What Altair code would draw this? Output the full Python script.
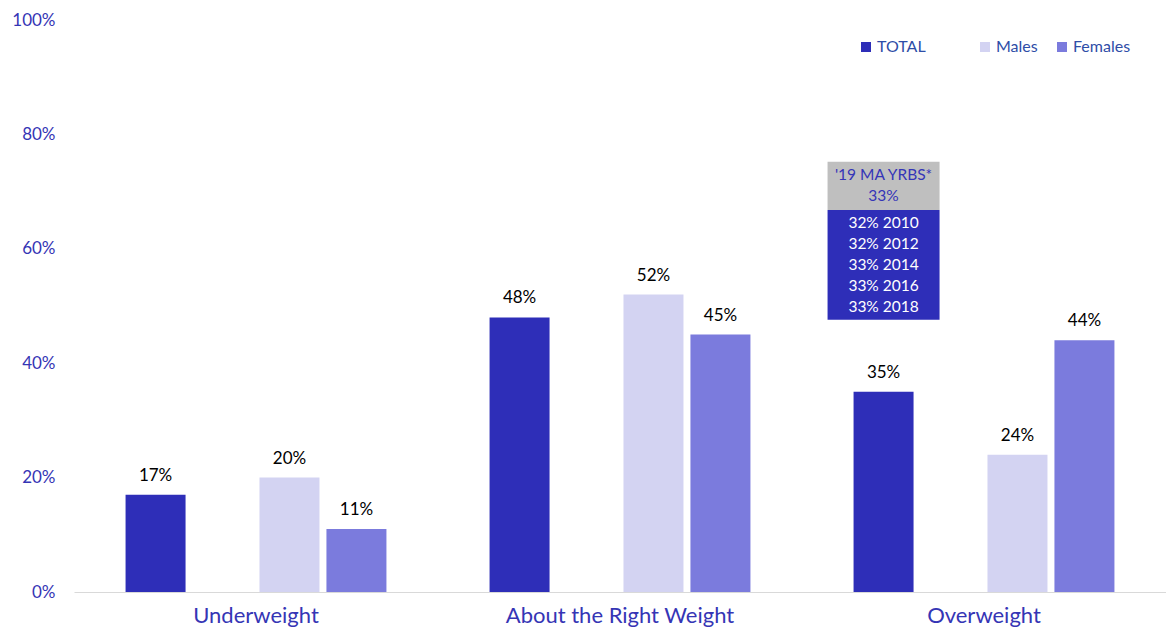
import altair as alt
import pandas as pd

groups = ["Underweight", "About the Right Weight", "Overweight"]
series = ["TOTAL", " ", "Males", "Females"]
colors = ["#2E2EB8", "#FFFFFF", "#D3D3F2", "#7B7BDD"]
total = [17, 48, 35]
males = [20, 52, 24]
females = [11, 45, 44]

# annotation box (state comparison) placed above Overweight / TOTAL
box_group = "Overweight"
box_series = "TOTAL"
box_bottoms = [66.8, 47.6]
box_tops = [75.2, 66.8]
box_fills = ["#BFBFBF", "#2E2EB8"]
box_text_colors = ["#3535B8", "#FFFFFF"]
box_texts = ["'19 MA YRBS*\n33%", "32% 2010\n32% 2012\n33% 2014\n33% 2016\n33% 2018"]

rows = []
for i, g in enumerate(groups):
    for s, vals in [("TOTAL", total), ("Males", males), ("Females", females)]:
        rows.append({"group": g, "series": s, "value": vals[i], "label": f"{vals[i]}%"})
df = pd.DataFrame(rows)

box_df = pd.DataFrame({
    "group": [box_group] * 2,
    "series": [box_series] * 2,
    "y": box_bottoms,
    "y2": box_tops,
    "fill": box_fills,
    "tcol": box_text_colors,
    "text": box_texts,
})

FONT = "Lato"
AXIS_BLUE = "#3535B5"

x_enc = alt.X("group:N", sort=groups,
              scale=alt.Scale(paddingInner=0, paddingOuter=0),
              axis=alt.Axis(title=None, labelAngle=0, labelFontSize=22, labelColor=AXIS_BLUE,
                            labelFont=FONT, ticks=False, domainColor="#D9D9D9",
                            labelPadding=13, labelLimit=0))
xo_enc = alt.XOffset("series:N",
                     scale=alt.Scale(domain=series, paddingInner=0.104, paddingOuter=0.77))
y_scale = alt.Scale(domain=[0, 100], nice=False)

bars = alt.Chart(df).mark_bar().encode(
    x=x_enc,
    xOffset=xo_enc,
    y=alt.Y("value:Q", scale=y_scale,
            axis=alt.Axis(title=None, values=[0, 20, 40, 60, 80, 100],
                          labelExpr="datum.value + '%'", grid=False, domain=False,
                          ticks=False, labelFontSize=17, labelColor=AXIS_BLUE,
                          labelFont=FONT, labelPadding=19)),
    color=alt.Color("series:N",
                    scale=alt.Scale(domain=series, range=colors),
                    legend=alt.Legend(title=None, orient="none", direction="horizontal",
                                      legendX=784, legendY=19, symbolType="square",
                                      symbolSize=100, symbolStrokeWidth=0,
                                      labelFontSize=16, labelFont=FONT,
                                      labelColor="#2E4DA7", columnPadding=16,
                                      labelOffset=3, padding=0)),
)

labels = alt.Chart(df).mark_text(baseline="bottom", dy=-10, fontSize=17,
                                 font=FONT, color="#000000").encode(
    x=alt.X("group:N", sort=groups),
    xOffset=alt.XOffset("series:N"),
    y=alt.Y("value:Q"),
    text="label:N",
)

boxes = alt.Chart(box_df).mark_bar(size=112).encode(
    x=alt.X("group:N", sort=groups),
    xOffset=alt.XOffset("series:N"),
    y=alt.Y("y:Q"),
    y2="y2:Q",
    color=alt.Color("fill:N", scale=None),
)

box_text = alt.Chart(box_df).mark_text(lineBreak="\n", lineHeight=21, fontSize=15.5,
                                       font=FONT, baseline="top", dy=6).encode(
    x=alt.X("group:N", sort=groups),
    xOffset=alt.XOffset("series:N"),
    y=alt.Y("y2:Q"),
    text="text:N",
    color=alt.Color("tcol:N", scale=None),
)

chart = alt.layer(bars, labels, boxes, box_text).properties(
    width=1092, height=572,
    background="#FFFFFF",
    autosize=alt.AutoSizeParams(type="none"),
    padding={"left": 66, "top": 12, "right": 0, "bottom": 35},
).configure_view(strokeWidth=0)

chart.save("out.html", embed_options={"renderer": "svg", "actions": False})
